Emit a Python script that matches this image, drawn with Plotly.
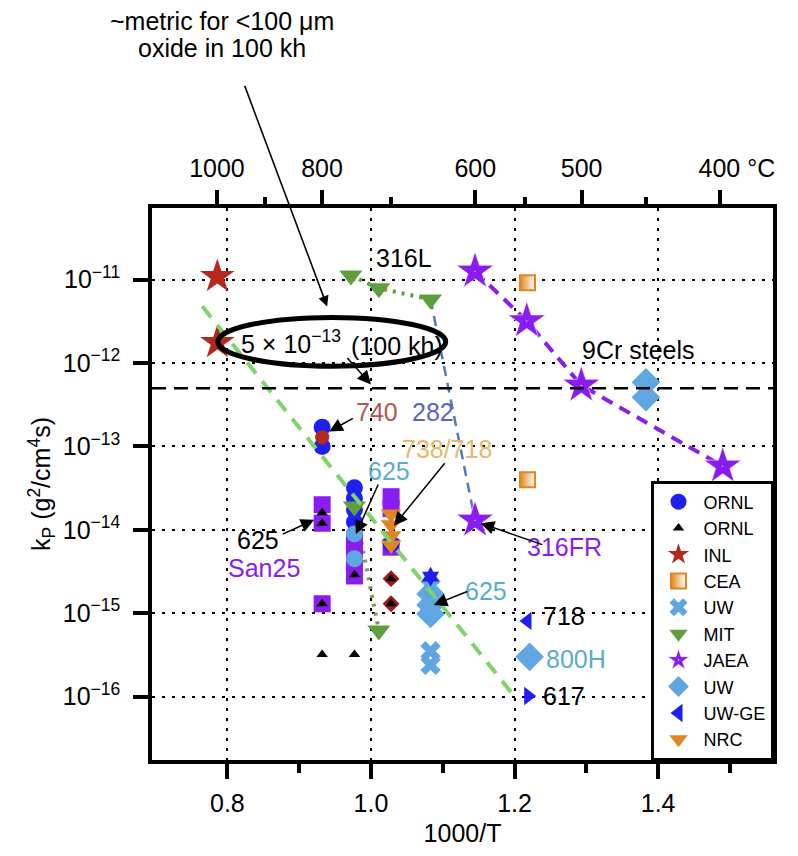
import plotly.graph_objects as go

# ---------------- axis definitions ----------------
X_TICKS = [0.8, 1.0, 1.2, 1.4]
X_TICK_LABELS = ["0.8", "1.0", "1.2", "1.4"]
X_MINOR = [0.9, 1.1, 1.3, 1.5]
Y_DECADES = [-11, -12, -13, -14, -15, -16]
TOP_TEMPS_C = [1000, 800, 600, 500, 400]
TOP_LABELS = ["1000", "800", "600", "500", "&nbsp;&nbsp;&nbsp;&nbsp;&nbsp;400 °C"]
TOP_MINOR_C = [900, 700, 550, 450]
X_RANGE = [0.695, 1.56]
LOGY_RANGE = [-16.76, -10.14]
KP_TARGET = 5e-13  # ~100 um oxide after 100 kh

# ---------------- data: x = 1000/T (K), y = kp (g^2/cm^4 s) ----------------
ornl_circ_x = [0.932, 0.932, 0.977, 0.977, 0.977, 0.977, 0.977, 1.028]
ornl_circ_y = [1.7e-13, 1.0e-13, 3.2e-14, 2.4e-14, 1.74e-14, 1.24e-14, 8.9e-15, 6.8e-15]

ornl_tri_x = [0.932, 0.932, 0.932, 0.932, 0.977, 0.977, 1.028, 1.028]
ornl_tri_y = [1.6e-14, 1.2e-14, 1.3e-15, 3.2e-16, 2.9e-15, 3.2e-16, 2.6e-15, 1.3e-15]

red_dia_x = [1.028, 1.028]
red_dia_y = [2.6e-15, 1.3e-15]

san25_x = [0.932, 0.932, 0.932, 0.977, 0.977, 0.977, 1.028, 1.028, 1.028]
san25_y = [2.0e-14, 1.2e-14, 1.3e-15, 6.8e-15, 4.3e-15, 2.8e-15, 2.5e-14, 1.8e-14, 6.2e-15]

lb_circ_x = [0.977, 0.977]
lb_circ_y = [8.9e-15, 4.5e-15]

nrc_x = [1.028, 1.028, 1.028, 1.028]
nrc_y = [1.55e-14, 1.15e-14, 8.5e-15, 6.6e-15]

inl_x = [0.786, 0.786]
inl_y = [1.09e-11, 1.76e-12]

alloy740_x = [0.932]
alloy740_y = [1.29e-13]

cea_x = [1.218, 1.218]
cea_y = [9.2e-12, 4.0e-14]

uw_x_x = [1.083, 1.083, 1.083]
uw_x_y = [2.1e-15, 3.5e-16, 2.4e-16]

mit316_x = [0.972, 1.011, 1.083]
mit316_y = [1.12e-11, 7.9e-12, 5.8e-12]
mit625_x = [0.977, 1.011]
mit625_y = [1.9e-14, 6.2e-16]

jaea9cr_x = [1.145, 1.217, 1.293, 1.49]
jaea9cr_y = [1.26e-11, 3.2e-12, 5.4e-13, 5.8e-14]
jaea316fr_x = [1.145]
jaea316fr_y = [1.3e-14]

uw_dia_x = [1.083, 1.083, 1.083, 1.221, 1.383, 1.383]
uw_dia_y = [1.7e-15, 1.26e-15, 9.8e-16, 3.0e-16, 5.9e-13, 3.9e-13]

uwge718_x = [1.218]
uwge718_y = [8.1e-16]
uwge617_x = [1.219]
uwge617_y = [1.02e-16]

hexa_x = [1.083]
hexa_y = [2.75e-15]

# alloy 625 trend line
fit_x = [0.765, 1.2]
fit_y = [4.8e-12, 1.0e-16]

# alloy 282 trend
a282_x = [1.083, 1.145]
a282_y = [5.8e-12, 1.3e-14]

# ---------------- colours ----------------
BLUE = "#1f1ff2"
PURPLE = "#8a1cf0"
LIGHTBLUE = "#5fa6e2"
GREEN = "#5f9e3c"
ORANGE = "#e0861e"
RED = "#b5281e"
FONT = "Liberation Sans, Arial, sans-serif"
TXT = 25

fig = go.Figure()


def add(x, y, name=None, legend=False, rank=1000, **kw):
    fig.add_trace(go.Scatter(x=x, y=y, name=name, showlegend=legend,
                             legendrank=rank, **kw))


# trend lines under the markers
add(mit316_x, mit316_y, mode="lines", line=dict(color=GREEN, width=4, dash="3px,6px"))
add(mit625_x, mit625_y, mode="lines", line=dict(color="#7c9a56", width=4, dash="3px,6px"))
add(a282_x, a282_y, mode="lines", line=dict(color="#4f79c2", width=2.5, dash="10px,7px"))
add(jaea9cr_x, jaea9cr_y, mode="lines", line=dict(color=PURPLE, width=4, dash="12px,8px"))

# markers
add(san25_x, san25_y, mode="markers", marker=dict(symbol="square", size=17, color=PURPLE))
add(ornl_circ_x, ornl_circ_y, "ORNL", True, 1, mode="markers",
    marker=dict(symbol="circle", size=17, color=BLUE))
add(lb_circ_x, lb_circ_y, mode="markers", marker=dict(symbol="circle", size=17, color=LIGHTBLUE))
add(alloy740_x, alloy740_y, mode="markers", marker=dict(symbol="circle", size=14, color=RED))
add(nrc_x, nrc_y, "NRC", True, 10, mode="markers",
    marker=dict(symbol="triangle-down", size=18, color=ORANGE))
add(red_dia_x, red_dia_y, mode="markers", marker=dict(symbol="diamond", size=13, color="#a01818"))
add(ornl_tri_x, ornl_tri_y, "ORNL", True, 2, mode="markers",
    marker=dict(symbol="triangle-up", size=10, color="black"))
add(inl_x, inl_y, "INL", True, 3, mode="markers",
    marker=dict(symbol="star", size=26, color=RED))
add(cea_x, cea_y, "CEA", True, 4, mode="markers",
    marker=dict(symbol="square", size=15, color=ORANGE,
                gradient=dict(type="horizontal", color="white"),
                line=dict(color=ORANGE, width=2)))
add(uw_dia_x, uw_dia_y, "UW", True, 8, mode="markers",
    marker=dict(symbol="diamond", size=22, color=LIGHTBLUE))
add(uw_x_x, uw_x_y, "UW", True, 5, mode="markers",
    marker=dict(symbol="x", size=18, color=LIGHTBLUE))
add(hexa_x, hexa_y, mode="markers", marker=dict(symbol="hexagram", size=15, color=BLUE))
add(mit316_x + mit625_x, mit316_y + mit625_y, "MIT", True, 6, mode="markers",
    marker=dict(symbol="triangle-down", size=20, color=GREEN))
add(jaea9cr_x + jaea316fr_x, jaea9cr_y + jaea316fr_y, "JAEA", True, 7, mode="markers",
    marker=dict(symbol="star-dot", size=28, color=PURPLE,
                line=dict(color="white", width=0.6)))
add(uwge718_x, uwge718_y, "UW-GE", True, 9, mode="markers",
    marker=dict(symbol="triangle-left", size=16, color=BLUE))
add(uwge617_x, uwge617_y, mode="markers", marker=dict(symbol="triangle-right", size=16, color=BLUE))

# alloy 625 trend drawn over the markers
add(fit_x, fit_y, mode="lines", line=dict(color="#7fd36b", width=4, dash="14px,10px"))

# empty trace to carry the temperature axis
fig.add_trace(go.Scatter(x=[], y=[], xaxis="x2", showlegend=False))

# target kp line
fig.add_shape(type="line", xref="paper", x0=0, x1=1, yref="y", y0=KP_TARGET, y1=KP_TARGET,
              line=dict(color="black", width=2.5, dash="14px,8px"))

# ellipse around the target label
fig.add_shape(type="circle", xref="paper", yref="paper",
              x0=0.106, x1=0.473, y0=0.7135, y1=0.8018,
              line=dict(color="black", width=5))

# ---------------- annotations ----------------
labels = [
    ("316L", 1.046, -10.74, "black"),
    ("9Cr steels", 1.372, -11.84, "black"),
    ("740", 1.008, -12.59, "#b85450"),
    ("282", 1.086, -12.59, "#5566c8"),
    ("738/718", 1.106, -13.03, "#e8b868"),
    ("625", 1.025, -13.30, "#5aaccc"),
    ("625", 0.842, -14.12, "black"),
    ("San25", 0.851, -14.46, PURPLE),
    ("316FR", 1.269, -14.21, PURPLE),
    ("625", 1.160, -14.73, "#5aaccc"),
    ("718", 1.269, -15.03, "black"),
    ("800H", 1.286, -15.55, "#5aaccc"),
    ("617", 1.269, -15.99, "black"),
    ("5 × 10<sup>−13</sup>", 0.889, -11.75, "black"),
    ("(100 kh)", 1.036, -11.80, "black"),
]
for txt, ax_, ay_, col in labels:
    fig.add_annotation(x=ax_, y=ay_, xref="x", yref="y", text=txt, showarrow=False,
                       xanchor="center", yanchor="middle",
                       font=dict(family=FONT, size=TXT, color=col))

arrows = [
    (0.942, -12.82, 25, -14),
    (1.032, -13.95, 52, -64),
    (0.979, -14.05, 23, -51),
    (0.921, -13.88, -33, 15),
    (1.153, -13.92, 63, 22),
    (1.0875, -14.90, 35, -14),
    (1.0, -12.256, -25, -28),
]
for hx, hy, dx, dy in arrows:
    fig.add_annotation(x=hx, y=hy, xref="x", yref="y", text="", showarrow=True,
                       ax=dx, ay=dy, arrowhead=2, arrowsize=1.8, arrowwidth=1.5,
                       arrowcolor="black")

fig.add_annotation(x=0.939, y=-11.32, xref="x", yref="y", text="", showarrow=True,
                   ax=-83, ay=-222, arrowhead=2, arrowsize=1.3, arrowwidth=1.6,
                   arrowcolor="black")
for line_txt, py in [("~metric for &lt;100 μm", 1.3387), ("oxide in 100 kh", 1.2901)]:
    fig.add_annotation(x=0.1127, y=py, xref="paper", yref="paper",
                       xanchor="center", yanchor="middle",
                       text=line_txt, showarrow=False,
                       font=dict(family=FONT, size=TXT, color="black"))

# ---------------- layout ----------------
grid = dict(showgrid=True, gridcolor="black", gridwidth=2, griddash="3px,7px")
top_vals = [1000.0 / (t + 273.15) for t in TOP_TEMPS_C]
top_minor = [1000.0 / (t + 273.15) for t in TOP_MINOR_C]

fig.update_layout(
    width=798, height=856,
    margin=dict(l=152, r=25, t=208, b=93),
    paper_bgcolor="white", plot_bgcolor="white",
    font=dict(family=FONT, size=TXT, color="black"),
    xaxis=dict(range=X_RANGE, tickvals=X_TICKS, ticktext=X_TICK_LABELS,
               ticks="outside", ticklen=15, tickwidth=3.5, tickcolor="black",
               showline=True, linewidth=3.5, linecolor="black", mirror=True,
               zeroline=False, ticklabelstandoff=3,
               tickfont=dict(family=FONT, size=TXT),
               minor=dict(tickvals=X_MINOR, ticks="outside", ticklen=9,
                          tickwidth=3.5, tickcolor="black", showgrid=False),
               title=dict(text="1000/T", standoff=10,
                          font=dict(family=FONT, size=TXT)),
               **grid),
    xaxis2=dict(range=X_RANGE, overlaying="x", side="top",
                tickvals=top_vals, ticktext=TOP_LABELS,
                tickfont=dict(family=FONT, size=TXT),
                ticks="outside", ticklen=17, tickwidth=3.5, tickcolor="black",
                showgrid=False, zeroline=False, showline=False, ticklabelstandoff=3,
                minor=dict(tickvals=top_minor, ticks="outside", ticklen=10,
                           tickwidth=3.5, tickcolor="black", showgrid=False)),
    yaxis=dict(type="log", range=LOGY_RANGE,
               tickvals=[10.0 ** d for d in Y_DECADES],
               ticktext=["10<sup>−%d</sup>" % (-d) for d in Y_DECADES],
               tickfont=dict(family=FONT, size=TXT),
               ticks="outside", ticklen=15, tickwidth=3.5, tickcolor="black",
               showline=True, linewidth=3.5, linecolor="black", mirror=True,
               zeroline=False, ticklabelstandoff=8,
               title=dict(text="k<sub>P</sub> (g<sup>2</sup>/cm<sup>4</sup>s)",
                          standoff=6, font=dict(family=FONT, size=TXT)),
               **grid),
    legend=dict(x=1, y=0, xanchor="right", yanchor="bottom",
                bgcolor="white", bordercolor="black", borderwidth=2.5,
                font=dict(family=FONT, size=18, color="black"),
                tracegroupgap=0, itemwidth=40),
)

fig.write_html("out.html")
